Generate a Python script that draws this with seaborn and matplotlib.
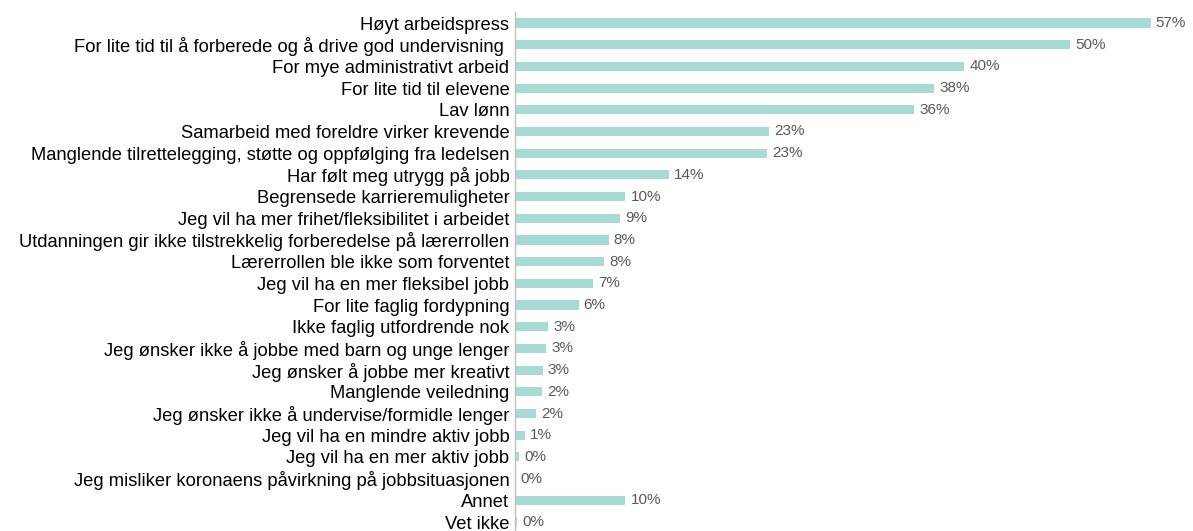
import numpy as np
import pandas as pd
import matplotlib.pyplot as plt
import seaborn as sns

# =============================
# DATA
# =============================
reasons = [
    'Høyt arbeidspress',
    'For lite tid til å forberede og å drive god undervisning ',
    'For mye administrativt arbeid',
    'For lite tid til elevene',
    'Lav lønn',
    'Samarbeid med foreldre virker krevende',
    'Manglende tilrettelegging, støtte og oppfølging fra ledelsen',
    'Har følt meg utrygg på jobb',
    'Begrensede karrieremuligheter',
    'Jeg vil ha mer frihet/fleksibilitet i arbeidet',
    'Utdanningen gir ikke tilstrekkelig forberedelse på lærerrollen',
    'Lærerrollen ble ikke som forventet',
    'Jeg vil ha en mer fleksibel jobb',
    'For lite faglig fordypning',
    'Ikke faglig utfordrende nok',
    'Jeg ønsker ikke å jobbe med barn og unge lenger',
    'Jeg ønsker å jobbe mer kreativt',
    'Manglende veiledning',
    'Jeg ønsker ikke å undervise/formidle lenger',
    'Jeg vil ha en mindre aktiv jobb',
    'Jeg vil ha en mer aktiv jobb',
    'Jeg misliker koronaens påvirkning på jobbsituasjonen',
    'Annet',
    'Vet ikke',
]
shares = [57.0, 49.8, 40.3, 37.6, 35.8, 22.8, 22.6, 13.8, 9.9, 9.4, 8.4, 8.0,
          7.0, 5.7, 3.0, 2.8, 2.5, 2.4, 1.9, 0.9, 0.4, 0.0, 9.9, 0.2]
labels = ['57%', '50%', '40%', '38%', '36%', '23%', '23%', '14%', '10%', '9%',
          '8%', '8%', '7%', '6%', '3%', '3%', '3%', '2%', '2%', '1%', '0%',
          '0%', '10%', '0%']

df = pd.DataFrame({'Reason': reasons, 'Share': shares})

# =============================
# PLOT
# =============================
sns.set_style('white')
plt.rcParams['font.family'] = ['Liberation Sans', 'DejaVu Sans']

fig = plt.figure(figsize=(11.93, 5.31), dpi=100)
ax = fig.add_axes([0.4317, -0.0035, 0.5515, 0.9806])

sns.barplot(data=df, x='Share', y='Reason', orient='h', color='#A8DAD5',
            width=0.42, saturation=1, linewidth=0, ax=ax)

for i, (v, lab) in enumerate(zip(shares, labels)):
    ax.text(v + 0.45, i, lab, va='center', ha='left', fontsize=11, color='#595959')

ax.set_xlim(0, 59)
ax.set_ylim(len(reasons) - 0.5, -0.5)
ax.set_xlabel('')
ax.set_ylabel('')
ax.set_xticks([])

for side in ['top', 'right', 'bottom']:
    ax.spines[side].set_visible(False)
ax.spines['left'].set_color('#BFBFBF')
ax.spines['left'].set_linewidth(1)

ax.tick_params(axis='y', which='major', length=0, pad=4, labelsize=13.2, labelcolor='#000000')
ax.set_yticks(np.arange(len(reasons) + 1) - 0.5, minor=True)
ax.tick_params(axis='y', which='minor', length=3.5, color='#BFBFBF', width=1)

plt.savefig('out.png', dpi=100)
plt.close()
